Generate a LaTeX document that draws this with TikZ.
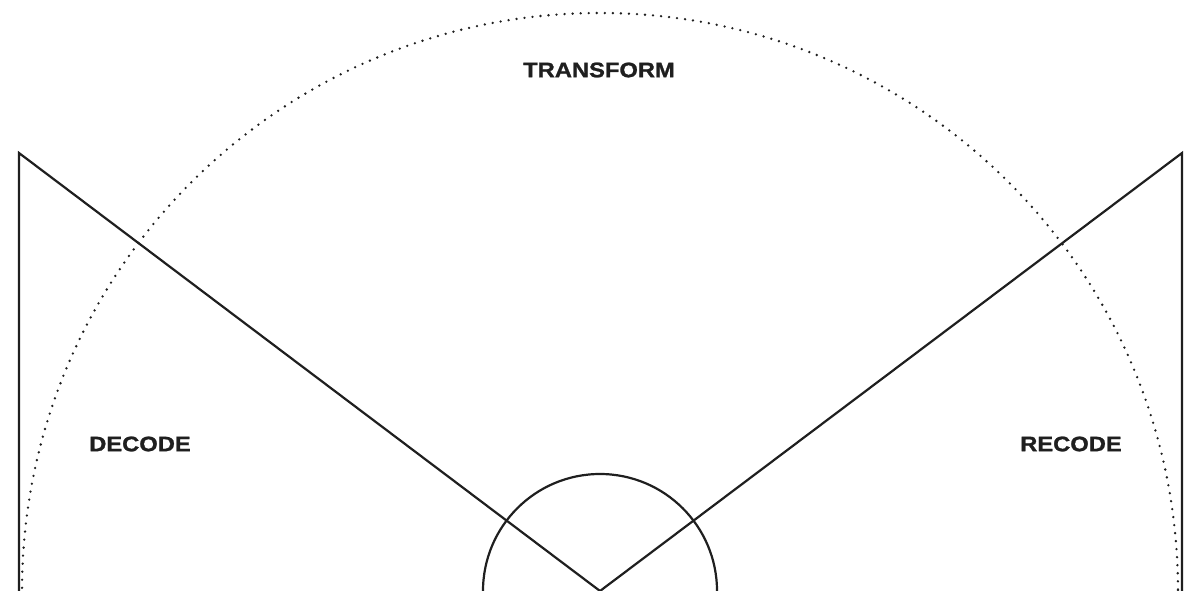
\documentclass[tikz,border=0pt]{standalone}
\usepackage{fontspec}
\setmainfont[FakeStretch=1.13,BoldFeatures={FakeBold=1.2}]{Liberation Sans}
\begin{document}
\begin{tikzpicture}[x=1pt,y=-1pt,
  solidline/.style={draw=black!88,line width=2.2pt},
  dotline/.style={draw=black!88,line width=2.6pt,line cap=round,dash pattern=on 0pt off 8.05pt},
  lbl/.style={font=\fontsize{21}{24}\selectfont\bfseries,text=black!88,inner sep=0pt,anchor=center}]
\useasboundingbox (0,0) rectangle (1189,591);
\clip (0,0) rectangle (1189,591);
\coordinate (c) at (600,591);
\coordinate (bl) at (19,592);
\coordinate (tl) at (19,153);
\coordinate (apex) at (600,591);
\coordinate (tr) at (1182,153);
\coordinate (br) at (1182,592);
\draw[dotline] (c) circle[radius=578];
\draw[solidline] (c) circle[radius=117];
\draw[solidline] (bl) -- (tl) -- (apex) -- (tr) -- (br);
\node[lbl] (transform) at (599,70) {TRANSFORM};
\node[lbl] (decode) at (140,444) {DECODE};
\node[lbl] (recode) at (1071,444) {RECODE};
\end{tikzpicture}
\end{document}
